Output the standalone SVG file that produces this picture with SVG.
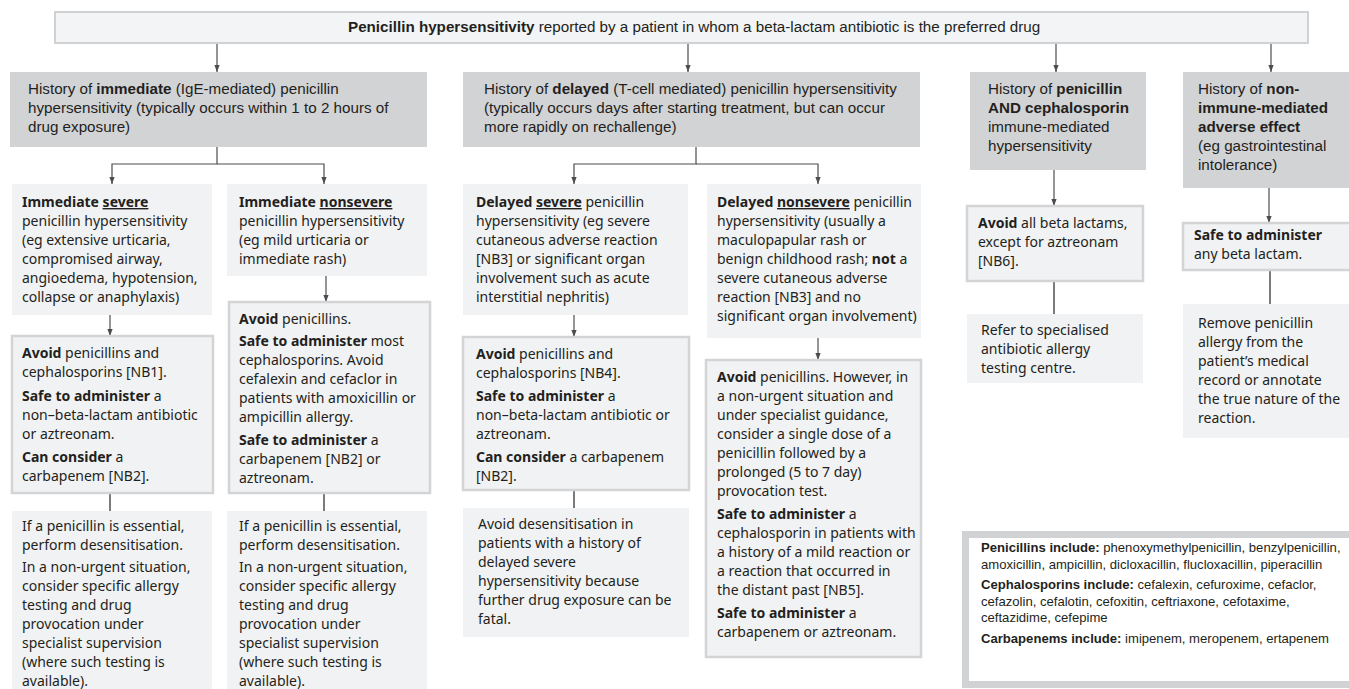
<svg xmlns="http://www.w3.org/2000/svg" width="1349" height="689" viewBox="0 0 1349 689">
<style>
  .bg{fill:#ffffff}
  .top{fill:#f3f4f5;stroke:#d0d1d3;stroke-width:2}
  .dark{fill:#d2d3d5}
  .light{fill:#f1f2f3}
  .bord{fill:#f1f2f3;stroke:#d3d4d6;stroke-width:2.5}
  .t2{font-family:"Liberation Sans",Arial,sans-serif;font-size:15.2px;fill:#231f20}
  .t3{font-family:"Noto Sans","Liberation Sans",sans-serif;font-size:14px;fill:#231f20}
  .tl{font-family:"Liberation Sans",Arial,sans-serif;font-size:13.1px;fill:#231f20}
  .b{font-weight:bold}
  .u{text-decoration:underline}
  .arr{stroke:#4d4d4f;stroke-width:1.2;fill:none}
  .ln{stroke:#7a7b7d;stroke-width:2;fill:none}
  .leg{fill:#ffffff;stroke:#d1d2d4;stroke-width:7}
</style>
<defs>
  <marker id="ah" markerUnits="userSpaceOnUse" markerWidth="7" markerHeight="7" viewBox="0 0 7 7" refX="7" refY="3.5" orient="auto">
    <path d="M0,0.9 L7,3.5 L0,6.1 Z" fill="#4d4d4f"/>
  </marker>
</defs>
<rect class="bg" x="0" y="0" width="1349" height="689"/>

<g id="connectors">
  <line class="arr" x1="217" y1="43" x2="217" y2="72" marker-end="url(#ah)"/>
  <line class="arr" x1="688" y1="43" x2="688" y2="72" marker-end="url(#ah)"/>
  <line class="arr" x1="1056" y1="43" x2="1056" y2="72" marker-end="url(#ah)"/>
  <line class="arr" x1="1271" y1="43" x2="1271" y2="72" marker-end="url(#ah)"/>
  <polyline class="arr" points="217,147 217,164 112,164 112,184" marker-end="url(#ah)"/>
  <polyline class="arr" points="217,164 324,164 324,184" marker-end="url(#ah)"/>
  <polyline class="arr" points="696,147 696,164 574,164 574,184" marker-end="url(#ah)"/>
  <polyline class="arr" points="696,164 818,164 818,184" marker-end="url(#ah)"/>
  <line class="arr" x1="110" y1="315" x2="110" y2="336" marker-end="url(#ah)"/>
  <line class="arr" x1="326" y1="276" x2="326" y2="302" marker-end="url(#ah)"/>
  <line class="arr" x1="574" y1="315" x2="574" y2="337" marker-end="url(#ah)"/>
  <line class="arr" x1="818" y1="338" x2="818" y2="360" marker-end="url(#ah)"/>
  <line class="arr" x1="1054" y1="170" x2="1054" y2="206" marker-end="url(#ah)"/>
  <line class="arr" x1="1269" y1="188" x2="1269" y2="223" marker-end="url(#ah)"/>
  <line class="ln" x1="110" y1="493" x2="110" y2="511"/>
  <line class="ln" x1="324" y1="493" x2="324" y2="511"/>
  <line class="ln" x1="574" y1="490" x2="574" y2="508"/>
  <line class="ln" x1="1054" y1="281" x2="1054" y2="314"/>
  <line class="ln" x1="1270" y1="270" x2="1270" y2="304"/>
</g>

<g id="n-top">
  <rect class="top" x="55" y="12" width="1253" height="31"/>
  <text class="t2" x="348" y="32"><tspan class="b">Penicillin hypersensitivity</tspan> reported by a patient in whom a beta-lactam antibiotic is the preferred drug</text>
</g>

<g id="n-immediate">
  <rect class="dark" x="10" y="72" width="417" height="75"/>
  <text class="t2">
    <tspan x="28" y="94">History of <tspan class="b">immediate</tspan> (IgE-mediated) penicillin</tspan>
    <tspan x="28" y="113">hypersensitivity (typically occurs within 1 to 2 hours of</tspan>
    <tspan x="28" y="132">drug exposure)</tspan>
  </text>
</g>

<g id="n-delayed">
  <rect class="dark" x="463" y="72" width="457" height="75"/>
  <text class="t2">
    <tspan x="484" y="94">History of <tspan class="b">delayed</tspan> (T-cell mediated) penicillin hypersensitivity</tspan>
    <tspan x="484" y="113">(typically occurs days after starting treatment, but can occur</tspan>
    <tspan x="484" y="132">more rapidly on rechallenge)</tspan>
  </text>
</g>

<g id="n-pen-ceph">
  <rect class="dark" x="970" y="72" width="176" height="98"/>
  <text class="t2">
    <tspan x="988" y="94">History of <tspan class="b">penicillin</tspan></tspan>
    <tspan x="988" y="113" class="b">AND cephalosporin</tspan>
    <tspan x="988" y="132">immune-mediated</tspan>
    <tspan x="988" y="151">hypersensitivity</tspan>
  </text>
</g>

<g id="n-nonimmune">
  <rect class="dark" x="1183" y="72" width="166" height="116"/>
  <text class="t2">
    <tspan x="1198" y="94">History of <tspan class="b">non-</tspan></tspan>
    <tspan x="1198" y="113" class="b">immune-mediated</tspan>
    <tspan x="1198" y="132" class="b">adverse effect</tspan>
    <tspan x="1198" y="151">(eg gastrointestinal</tspan>
    <tspan x="1198" y="170">intolerance)</tspan>
  </text>
</g>

<g id="n-imm-severe">
  <rect class="light" x="12" y="184" width="200" height="131"/>
  <text class="t3">
    <tspan x="22" y="207"><tspan class="b">Immediate</tspan> <tspan class="b u">severe</tspan></tspan>
    <tspan x="22" y="226">penicillin hypersensitivity</tspan>
    <tspan x="22" y="245">(eg extensive urticaria,</tspan>
    <tspan x="22" y="264">compromised airway,</tspan>
    <tspan x="22" y="283">angioedema, hypotension,</tspan>
    <tspan x="22" y="302">collapse or anaphylaxis)</tspan>
  </text>
</g>

<g id="n-imm-nonsevere">
  <rect class="light" x="227" y="184" width="200" height="92"/>
  <text class="t3">
    <tspan x="239" y="207"><tspan class="b">Immediate</tspan> <tspan class="b u">nonsevere</tspan></tspan>
    <tspan x="239" y="226">penicillin hypersensitivity</tspan>
    <tspan x="239" y="245">(eg mild urticaria or</tspan>
    <tspan x="239" y="264">immediate rash)</tspan>
  </text>
</g>

<g id="n-imm-severe-mgmt">
  <rect class="bord" x="12" y="336" width="201" height="157"/>
  <text class="t3">
    <tspan x="22" y="358"><tspan class="b">Avoid</tspan> penicillins and</tspan>
    <tspan x="22" y="377">cephalosporins [NB1].</tspan>
    <tspan x="22" y="401"><tspan class="b">Safe to administer</tspan> a</tspan>
    <tspan x="22" y="420">non–beta-lactam antibiotic</tspan>
    <tspan x="22" y="439">or aztreonam.</tspan>
    <tspan x="22" y="462"><tspan class="b">Can consider</tspan> a</tspan>
    <tspan x="22" y="481">carbapenem [NB2].</tspan>
  </text>
</g>

<g id="n-imm-nonsevere-mgmt">
  <rect class="bord" x="229" y="302" width="201" height="191"/>
  <text class="t3">
    <tspan x="239" y="324"><tspan class="b">Avoid</tspan> penicillins.</tspan>
    <tspan x="239" y="346"><tspan class="b">Safe to administer</tspan> most</tspan>
    <tspan x="239" y="365">cephalosporins. Avoid</tspan>
    <tspan x="239" y="384">cefalexin and cefaclor in</tspan>
    <tspan x="239" y="403">patients with amoxicillin or</tspan>
    <tspan x="239" y="422">ampicillin allergy.</tspan>
    <tspan x="239" y="445"><tspan class="b">Safe to administer</tspan> a</tspan>
    <tspan x="239" y="464">carbapenem [NB2] or</tspan>
    <tspan x="239" y="483">aztreonam.</tspan>
  </text>
</g>

<g id="n-imm-severe-note">
  <rect class="light" x="12" y="511" width="200" height="190"/>
  <text class="t3">
    <tspan x="22" y="531">If a penicillin is essential,</tspan>
    <tspan x="22" y="550">perform desensitisation.</tspan>
    <tspan x="22" y="572">In a non-urgent situation,</tspan>
    <tspan x="22" y="591">consider specific allergy</tspan>
    <tspan x="22" y="610">testing and drug</tspan>
    <tspan x="22" y="629">provocation under</tspan>
    <tspan x="22" y="648">specialist supervision</tspan>
    <tspan x="22" y="667">(where such testing is</tspan>
    <tspan x="22" y="686">available).</tspan>
  </text>
</g>

<g id="n-imm-nonsevere-note">
  <rect class="light" x="227" y="511" width="200" height="190"/>
  <text class="t3">
    <tspan x="239" y="531">If a penicillin is essential,</tspan>
    <tspan x="239" y="550">perform desensitisation.</tspan>
    <tspan x="239" y="572">In a non-urgent situation,</tspan>
    <tspan x="239" y="591">consider specific allergy</tspan>
    <tspan x="239" y="610">testing and drug</tspan>
    <tspan x="239" y="629">provocation under</tspan>
    <tspan x="239" y="648">specialist supervision</tspan>
    <tspan x="239" y="667">(where such testing is</tspan>
    <tspan x="239" y="686">available).</tspan>
  </text>
</g>

<g id="n-del-severe">
  <rect class="light" x="463" y="184" width="225" height="131"/>
  <text class="t3">
    <tspan x="476" y="207"><tspan class="b">Delayed</tspan> <tspan class="b u">severe</tspan> penicillin</tspan>
    <tspan x="476" y="226">hypersensitivity (eg severe</tspan>
    <tspan x="476" y="245">cutaneous adverse reaction</tspan>
    <tspan x="476" y="264">[NB3] or significant organ</tspan>
    <tspan x="476" y="283">involvement such as acute</tspan>
    <tspan x="476" y="302">interstitial nephritis)</tspan>
  </text>
</g>

<g id="n-del-nonsevere">
  <rect class="light" x="707" y="184" width="214" height="154"/>
  <text class="t3">
    <tspan x="717" y="207"><tspan class="b">Delayed</tspan> <tspan class="b u">nonsevere</tspan> penicillin</tspan>
    <tspan x="717" y="226">hypersensitivity (usually a</tspan>
    <tspan x="717" y="245">maculopapular rash or</tspan>
    <tspan x="717" y="264">benign childhood rash; <tspan class="b">not</tspan> a</tspan>
    <tspan x="717" y="283">severe cutaneous adverse</tspan>
    <tspan x="717" y="302">reaction [NB3] and no</tspan>
    <tspan x="717" y="321">significant organ involvement)</tspan>
  </text>
</g>

<g id="n-del-severe-mgmt">
  <rect class="bord" x="463" y="337" width="226" height="153"/>
  <text class="t3">
    <tspan x="476" y="359"><tspan class="b">Avoid</tspan> penicillins and</tspan>
    <tspan x="476" y="378">cephalosporins [NB4].</tspan>
    <tspan x="476" y="401"><tspan class="b">Safe to administer</tspan> a</tspan>
    <tspan x="476" y="420">non–beta-lactam antibiotic or</tspan>
    <tspan x="476" y="439">aztreonam.</tspan>
    <tspan x="476" y="462"><tspan class="b">Can consider</tspan> a carbapenem</tspan>
    <tspan x="476" y="481">[NB2].</tspan>
  </text>
</g>

<g id="n-del-severe-note">
  <rect class="light" x="463" y="508" width="226" height="129"/>
  <text class="t3">
    <tspan x="478" y="529">Avoid desensitisation in</tspan>
    <tspan x="478" y="548">patients with a history of</tspan>
    <tspan x="478" y="567">delayed severe</tspan>
    <tspan x="478" y="586">hypersensitivity because</tspan>
    <tspan x="478" y="605">further drug exposure can be</tspan>
    <tspan x="478" y="624">fatal.</tspan>
  </text>
</g>

<g id="n-del-nonsevere-mgmt">
  <rect class="bord" x="706" y="360" width="215" height="297"/>
  <text class="t3">
    <tspan x="717" y="382"><tspan class="b">Avoid</tspan> penicillins. However, in</tspan>
    <tspan x="717" y="401">a non-urgent situation and</tspan>
    <tspan x="717" y="420">under specialist guidance,</tspan>
    <tspan x="717" y="439">consider a single dose of a</tspan>
    <tspan x="717" y="458">penicillin followed by a</tspan>
    <tspan x="717" y="477">prolonged (5 to 7 day)</tspan>
    <tspan x="717" y="496">provocation test.</tspan>
    <tspan x="717" y="519"><tspan class="b">Safe to administer</tspan> a</tspan>
    <tspan x="717" y="538">cephalosporin in patients with</tspan>
    <tspan x="717" y="557">a history of a mild reaction or</tspan>
    <tspan x="717" y="576">a reaction that occurred in</tspan>
    <tspan x="717" y="595">the distant past [NB5].</tspan>
    <tspan x="717" y="618"><tspan class="b">Safe to administer</tspan> a</tspan>
    <tspan x="717" y="637">carbapenem or aztreonam.</tspan>
  </text>
</g>

<g id="n-pen-ceph-mgmt">
  <rect class="bord" x="967" y="206" width="176" height="75"/>
  <text class="t3">
    <tspan x="978" y="228"><tspan class="b">Avoid</tspan> all beta lactams,</tspan>
    <tspan x="978" y="247">except for aztreonam</tspan>
    <tspan x="978" y="266">[NB6].</tspan>
  </text>
</g>

<g id="n-pen-ceph-note">
  <rect class="light" x="967" y="314" width="176" height="69"/>
  <text class="t3">
    <tspan x="981" y="335">Refer to specialised</tspan>
    <tspan x="981" y="354">antibiotic allergy</tspan>
    <tspan x="981" y="373">testing centre.</tspan>
  </text>
</g>

<g id="n-nonimmune-mgmt">
  <rect class="bord" x="1183" y="223" width="170" height="47"/>
  <text class="t3">
    <tspan x="1194" y="240" class="b">Safe to administer</tspan>
    <tspan x="1194" y="259">any beta lactam.</tspan>
  </text>
</g>

<g id="n-nonimmune-note">
  <rect class="light" x="1183" y="304" width="166" height="134"/>
  <text class="t3">
    <tspan x="1198" y="328">Remove penicillin</tspan>
    <tspan x="1198" y="347">allergy from the</tspan>
    <tspan x="1198" y="366">patient’s medical</tspan>
    <tspan x="1198" y="385">record or annotate</tspan>
    <tspan x="1198" y="404">the true nature of the</tspan>
    <tspan x="1198" y="423">reaction.</tspan>
  </text>
</g>

<g id="legend">
  <rect class="leg" x="965.5" y="534.5" width="400" height="150"/>
  <text class="tl">
    <tspan x="981" y="552"><tspan class="b">Penicillins include:</tspan> phenoxymethylpenicillin, benzylpenicillin,</tspan>
    <tspan x="981" y="569">amoxicillin, ampicillin, dicloxacillin, flucloxacillin, piperacillin</tspan>
    <tspan x="981" y="589"><tspan class="b">Cephalosporins include:</tspan> cefalexin, cefuroxime, cefaclor,</tspan>
    <tspan x="981" y="606">cefazolin, cefalotin, cefoxitin, ceftriaxone, cefotaxime,</tspan>
    <tspan x="981" y="622">ceftazidime, cefepime</tspan>
    <tspan x="981" y="643"><tspan class="b">Carbapenems include:</tspan> imipenem, meropenem, ertapenem</tspan>
  </text>
</g>
</svg>
